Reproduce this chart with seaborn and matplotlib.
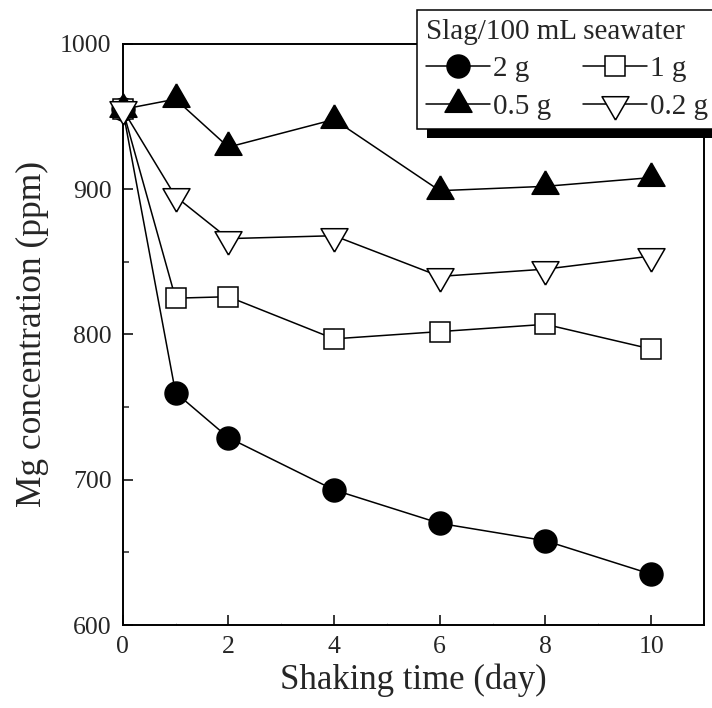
import seaborn as sns
import matplotlib.pyplot as plt
from matplotlib.patches import Rectangle
from matplotlib.ticker import MultipleLocator

days = [0, 1, 2, 4, 6, 8, 10]
mg_2g = [955, 760, 729, 693, 670, 658, 635]
mg_1g = [955, 825, 826, 797, 802, 807, 790]
mg_05g = [955, 962, 929, 948, 899, 902, 908]
mg_02g = [955, 895, 866, 868, 840, 845, 854]

x_ticks = [0, 2, 4, 6, 8, 10]
y_ticks = [600, 700, 800, 900, 1000]

# triangles centred on their centroid, like the original software
tri_up = [(0, 0.577), (-0.5, -0.289), (0.5, -0.289), (0, 0.577)]
tri_down = [(0, -0.577), (-0.5, 0.289), (0.5, 0.289), (0, -0.577)]

sns.set_style("ticks")
plt.rcParams["font.family"] = ["Liberation Serif", "DejaVu Serif"]

fig = plt.figure(figsize=(7.12, 7.08), dpi=100)
ax = fig.add_axes([0.1723, 0.1172, 0.9888 - 0.1723, 0.9379 - 0.1172])

series = [
    (mg_2g, "2 g", "o", "black", 16.5),
    (mg_1g, "1 g", "s", "white", 14.3),
    (mg_05g, "0.5 g", tri_up, "black", 22.4),
    (mg_02g, "0.2 g", tri_down, "white", 22.4),
]
for vals, lab, mk, fc, ms in series:
    sns.lineplot(
        x=days,
        y=vals,
        ax=ax,
        color="black",
        linewidth=1.1,
        marker=mk,
        markersize=ms,
        markerfacecolor=fc,
        markeredgecolor="black",
        markeredgewidth=1.1,
        label=lab,
        clip_on=False,
        zorder=3,
    )

ax.set_xlim(0, 11)
ax.set_ylim(600, 1000)
ax.set_xticks(x_ticks)
ax.set_yticks(y_ticks)
ax.xaxis.set_minor_locator(MultipleLocator(1))
ax.yaxis.set_minor_locator(MultipleLocator(50))
ax.tick_params(axis="both", which="major", direction="in", length=7, width=1.3,
               labelsize=18.5, pad=8, top=False, right=False)
ax.tick_params(axis="y", which="minor", direction="in", length=4.5, width=1.1)
ax.tick_params(axis="x", which="minor", direction="in", length=1.5, width=0.5,
               color="0.6")
for sp in ax.spines.values():
    sp.set_linewidth(1.4)
    sp.set_color("black")

ax.set_xlabel("Shaking time (day)", fontsize=25, labelpad=4)
ax.set_ylabel("Mg concentration (ppm)", fontsize=25.5, labelpad=8)

handles, labels = ax.get_legend_handles_labels()
order = [0, 2, 1, 3]
leg = ax.legend(
    [handles[i] for i in order],
    [labels[i] for i in order],
    title="Slag/100 mL seawater",
    ncol=2,
    loc="upper left",
    bbox_to_anchor=(417 / 712, 1 - 10 / 708),
    bbox_transform=fig.transFigure,
    borderaxespad=0,
    fontsize=21,
    title_fontsize=21,
    alignment="left",
    handlelength=2.2,
    handletextpad=0.1,
    columnspacing=1.1,
    labelspacing=0.38,
    borderpad=0.3,
    fancybox=False,
    framealpha=1,
    edgecolor="black",
)
leg.get_frame().set_linewidth(1.1)
leg.set_zorder(6)

fig.canvas.draw()
bb = leg.get_frame().get_window_extent()
shadow = Rectangle((bb.x0 + 10, bb.y0 - 9), bb.width, bb.height,
                   facecolor="black", edgecolor="none", transform=None,
                   clip_on=False, zorder=5.5)
ax.add_artist(shadow)

fig.savefig("out.png", dpi=100)
